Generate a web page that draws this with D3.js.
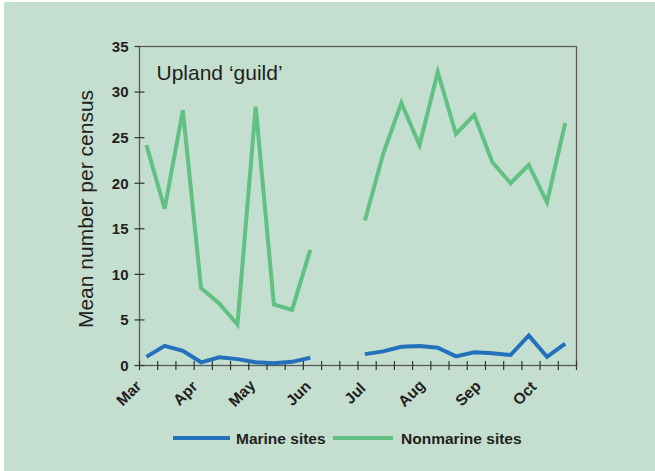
<!DOCTYPE html>
<html>
<head>
<meta charset="utf-8">
<script src="https://cdn.jsdelivr.net/npm/d3@7"></script>
<style>
  html, body { margin: 0; padding: 0; background: #fff; }
  svg text { font-family: "Liberation Sans", Arial, sans-serif; fill: #231f20; }
</style>
</head>
<body>
<div id="container"></div>
<script>
// 24 ten-day census periods, Mar to Oct; null = no census
const periods = d3.range(24)
const monthLabels = ['Mar', 'Apr', 'May', 'Jun', 'Jul', 'Aug', 'Sep', 'Oct']
const monthTickIndex = [0, 3, 6, 9, 12, 15, 18, 21]
const yTicks = [0, 5, 10, 15, 20, 25, 30, 35]

const marine = [0.95, 2.15, 1.6, 0.35, 0.9, 0.7, 0.35, 0.25, 0.4, 0.85, null, null,
  1.25, 1.55, 2.05, 2.15, 1.95, 1.0, 1.45, 1.35, 1.15, 3.3, 0.95, 2.4]
const nonmarine = [24.2, 17.2, 28.0, 8.5, 6.8, 4.5, 28.4, 6.7, 6.1, 12.7, null, null,
  15.9, 23.2, 28.8, 24.2, 32.2, 25.4, 27.5, 22.3, 20.0, 22.0, 17.9, 26.6]

const series = [
  { name: 'Marine sites', values: marine, color: '#2370bd' },
  { name: 'Nonmarine sites', values: nonmarine, color: '#60c183' }
]

const W = 655, H = 471
const margin = { top: 46.5, right: 78.5, bottom: 105.5, left: 139.5 }
const width = W - margin.left - margin.right
const height = H - margin.top - margin.bottom

const svg = d3.select('#container').append('svg')
  .attr('width', W).attr('height', H)

svg.append('rect').attr('x', 4).attr('y', 2).attr('width', W - 4).attr('height', H - 2)
  .attr('fill', '#c4ded0')

const g = svg.append('g').attr('transform', `translate(${margin.left},${margin.top})`)

const x = d3.scaleLinear().domain([0, 24]).range([0, width])
const y = d3.scaleLinear().domain([0, 35]).range([height, 0])
// month labels sit a little off their ticks in the original, drifting right
const labelX = d3.scaleLinear().domain([0, 21]).range([x(0) - 7, x(21) + 6.5])

// frame
g.append('rect').attr('width', width).attr('height', height)
  .attr('fill', 'none').attr('stroke', '#5a5a5a').attr('stroke-width', 1.3)

// y axis ticks
g.selectAll('.ytick').data(yTicks).enter().append('line')
  .attr('x1', -5).attr('x2', d => d === 35 ? 0 : 5)
  .attr('y1', d => y(d)).attr('y2', d => y(d))
  .attr('stroke', '#333').attr('stroke-width', 1.2)
g.selectAll('.ylab').data(yTicks).enter().append('text')
  .attr('x', -11).attr('y', d => y(d)).attr('dy', '0.36em')
  .attr('text-anchor', 'end').attr('font-size', 15).attr('font-weight', 'bold')
  .text(d => d)

// x axis ticks
g.selectAll('.xtick').data(d3.range(25)).enter().append('line')
  .attr('x1', d => x(d)).attr('x2', d => x(d))
  .attr('y1', height - 4.5).attr('y2', height + 4.5)
  .attr('stroke', '#333').attr('stroke-width', 1.2)
g.selectAll('.xlab').data(monthLabels).enter().append('text')
  .attr('text-anchor', 'middle').attr('font-size', 15.5).attr('font-weight', 'bold')
  .attr('transform', (d, i) => `translate(${labelX(monthTickIndex[i])},${height + 31.5}) rotate(-45)`)
  .text(d => d)

// lines
const line = d3.line()
  .defined(d => d.v !== null)
  .x(d => x(d.i + 0.38))
  .y(d => y(d.v))

series.forEach(s => {
  g.append('path')
    .datum(periods.map(i => ({ i: i, v: s.values[i] })))
    .attr('d', line)
    .attr('fill', 'none')
    .attr('stroke', s.color)
    .attr('stroke-width', 4)
    .attr('stroke-linejoin', 'miter')
})

// panel title
g.append('text').attr('x', 17).attr('y', 33)
  .attr('font-size', 21).text('Upland \u2018guild\u2019')

// y axis title
svg.append('text')
  .attr('transform', `translate(93,${margin.top + height / 2 + 3}) rotate(-90)`)
  .attr('text-anchor', 'middle').attr('font-size', 21)
  .text('Mean number per census')

// legend
const legend = svg.append('g').attr('transform', 'translate(173,438)')
const legendX = [0, 160]
series.forEach((s, i) => {
  legend.append('line')
    .attr('x1', legendX[i]).attr('x2', legendX[i] + (i === 0 ? 57 : 60))
    .attr('y1', 0).attr('y2', 0)
    .attr('stroke', s.color).attr('stroke-width', 4)
  legend.append('text')
    .attr('x', legendX[i] + (i === 0 ? 63 : 68)).attr('y', 5.5)
    .attr('font-size', 15.5).attr('font-weight', 'bold')
    .text(s.name)
})
</script>
</body>
</html>
